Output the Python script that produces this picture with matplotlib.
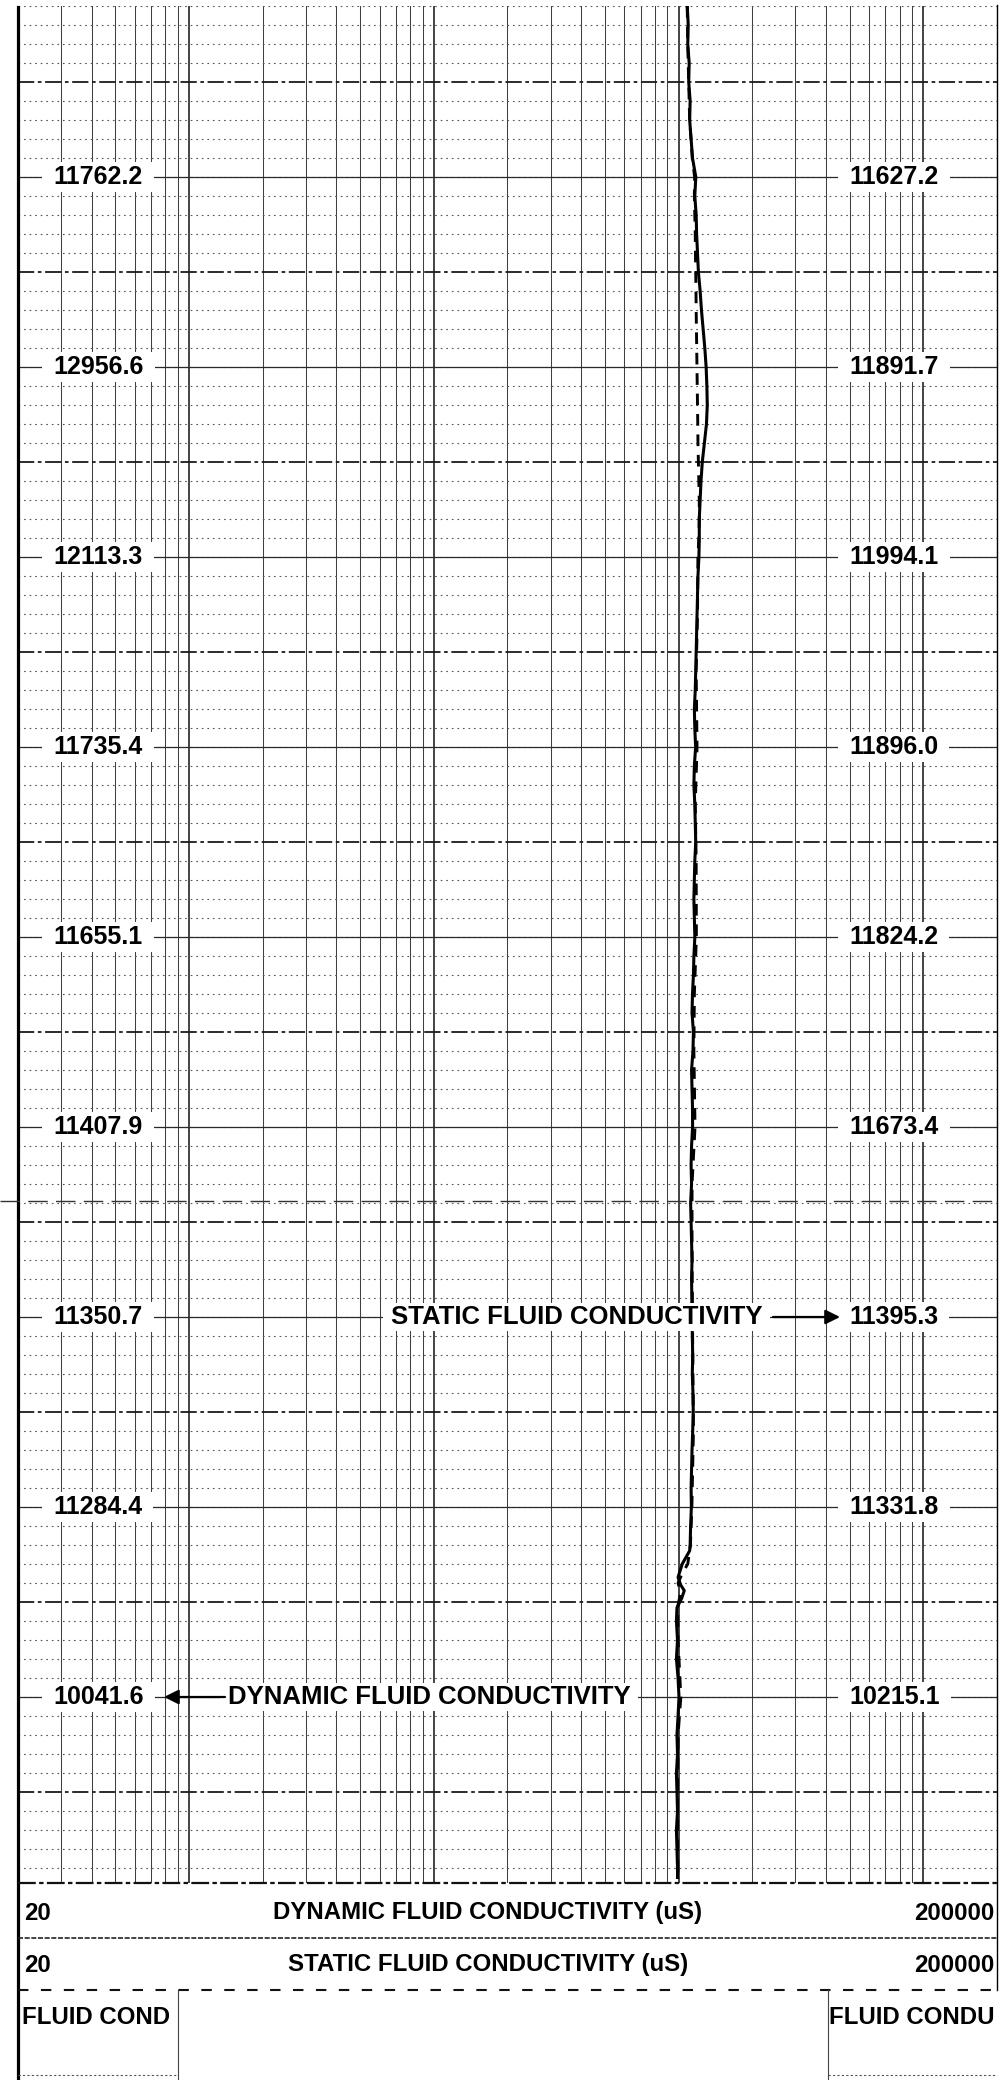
import numpy as np
import matplotlib
matplotlib.use("Agg")
import matplotlib.pyplot as plt
from matplotlib.ticker import LogLocator, MultipleLocator, NullFormatter
from matplotlib.lines import Line2D
from matplotlib import transforms

plt.rcParams['font.family'] = ['Liberation Sans', 'DejaVu Sans']

# ---------------- data ----------------
scale_min, scale_max = 20, 200000

dyn_depth = [0, 1, 2, 3, 4, 5, 6, 7, 8, 9, 10, 11, 12, 13, 14, 15, 16, 17, 18, 19,
             20, 21, 22, 23, 24, 25, 26, 27, 28, 29, 30, 31, 32, 33, 34, 35, 36, 37, 38, 39,
             40, 41, 42, 43, 44, 45, 46, 47, 48, 49, 50, 51, 52, 53, 54, 55, 56, 57, 58, 59,
             60, 61, 62, 63, 64, 65, 66, 67, 68, 69, 70, 71, 72, 73, 74, 75, 76, 77, 78, 79,
             80, 81, 81.3, 82.0, 82.7, 83.1, 83.4, 83.8, 84.3, 85, 86, 87, 88, 89,
             90, 91, 92, 93, 94, 95, 96, 97, 98, 98.5]
dyn_vals = [10850, 10950, 10900, 11050, 11000, 11150, 11100, 11250, 11400, 11760,
            11650, 11800, 11850, 11950, 12050, 12250, 12400, 12600, 12800, 12960,
            13050, 13100, 13000, 12750, 12500, 12350, 12250, 12150, 12150, 12110,
            12000, 11950, 11900, 11850, 11800, 11750, 11700, 11600, 11650, 11740,
            11600, 11550, 11650, 11700, 11750, 11650, 11600, 11550, 11600, 11655,
            11550, 11500, 11400, 11350, 11500, 11450, 11300, 11350, 11400, 11410,
            11300, 11250, 11300, 11200, 11250, 11300, 11350, 11300, 11330, 11350,
            11380, 11420, 11380, 11450, 11480, 11420, 11350, 11300, 11250, 11280,
            11200, 11150, 11100, 10350, 9950, 10200, 10550, 10300, 9850, 9800,
            9900, 9800, 9950, 10040,
            9950, 9850, 9900, 9800, 9850, 9900, 9800, 9850, 9900, 9900]

stat_depth = [0, 2, 4, 6, 8, 9, 10, 11, 12, 13, 14, 15, 16, 17, 18, 19, 20, 21, 22, 23,
              24, 25, 26, 27, 28, 29, 32, 35, 39, 42, 45, 49, 52, 55, 59, 62, 65, 69,
              72, 75, 79, 81, 81.3, 82.0, 82.5, 83.0, 83.5, 84.3, 86, 89, 91, 94, 97, 98.5]
stat_vals = [10850, 10900, 11000, 11100, 11380, 11630, 11600, 11650, 11700, 11720,
             11750, 11780, 11800, 11830, 11860, 11890, 11920, 11950, 11980, 12000,
             12050, 12100, 12150, 12150, 12100, 11994, 11950, 11800, 11896, 11700,
             11800, 11824, 11600, 11550, 11673, 11350, 11350, 11395, 11450, 11500,
             11332, 11180, 11100, 10900, 10350, 9950, 10200, 9900, 9950, 10215,
             9950, 9900, 9900, 9950]

left_labels = ["11762.2", "12956.6", "12113.3", "11735.4", "11655.1",
               "11407.9", "11350.7", "11284.4", "10041.6"]
right_labels = ["11627.2", "11891.7", "11994.1", "11896.0", "11824.2",
                "11673.4", "11395.3", "11331.8", "10215.1"]

dyn_name = "DYNAMIC FLUID CONDUCTIVITY"
stat_name = "STATIC FLUID CONDUCTIVITY"
unit = "(uS)"
box_left_text = "FLUID COND"
box_right_text = "FLUID CONDU"

# ---------------- layout helpers ----------------
W, H = 1000, 2080
def fx(px):
    return px / W
def fy(py):
    return 1 - py / H

fig = plt.figure(figsize=(10, 20.8), dpi=100)
fig.patch.set_facecolor('white')

X0, X1 = 18, 997
Y0, Y1 = 6, 1883
ax = fig.add_axes([fx(X0), fy(Y1), (X1 - X0) / W, (Y1 - Y0) / H])
ax.set_xscale('log')
ax.set_xlim(scale_min, scale_max)
depth_span = (Y1 - Y0) / 19.0
ax.set_ylim(depth_span, 0)

ax.xaxis.set_major_locator(LogLocator(base=10, numticks=20))
ax.xaxis.set_minor_locator(LogLocator(base=10, subs=np.arange(2, 10), numticks=50))
ax.xaxis.set_minor_formatter(NullFormatter())
ax.yaxis.set_major_locator(MultipleLocator(10, offset=4))
ax.yaxis.set_minor_locator(MultipleLocator(1))
ax.tick_params(which='both', length=0, labelbottom=False, labelleft=False)
for s in ax.spines.values():
    s.set_visible(False)

ax.grid(which='major', axis='x', color='#111111', lw=1.1)
ax.grid(which='minor', axis='x', color='#404040', lw=0.75)
ax.grid(which='major', axis='y', color='#1a1a1a', lw=1.3, linestyle=(0, (9, 2, 2, 2)))
ax.grid(which='minor', axis='y', color='#555555', lw=0.8, linestyle=(0, (1.5, 3.5)))
ax.set_axisbelow(True)

label_depths = np.arange(len(left_labels)) * 10 + 9
for d in label_depths:
    ax.axhline(d, color='#2a2a2a', lw=0.9, zorder=1)

# curves
ax.plot(dyn_vals, dyn_depth, color='black', lw=2.2, zorder=3, solid_joinstyle='round')
ax.plot(stat_vals, stat_depth, color='black', lw=2.1, zorder=3,
        linestyle=(0, (4, 3)))

tr = transforms.blended_transform_factory(ax.transAxes, ax.transData)
def axfrac(px):
    return (px - X0) / (X1 - X0)

box = dict(boxstyle='square,pad=0.45', fc='white', ec='none', mutation_aspect=0.25)
for d, lab in zip(label_depths, left_labels):
    ax.text(axfrac(53), d, lab, transform=tr, ha='left', va='center',
            fontsize=18, fontweight='bold', zorder=5, bbox=box)
for d, lab in zip(label_depths, right_labels):
    ax.text(axfrac(849), d, lab, transform=tr, ha='left', va='center',
            fontsize=18, fontweight='bold', zorder=5, bbox=box)

# annotations
abox = dict(boxstyle='square,pad=0.3', fc='white', ec='none', mutation_aspect=0.3)
d_stat = label_depths[6]
ax.text(axfrac(391), d_stat, stat_name, transform=tr, ha='left', va='center',
        fontsize=18.5, fontweight='bold', zorder=5, bbox=abox)
ax.annotate('', xy=(axfrac(840), d_stat), xytext=(axfrac(773), d_stat),
            xycoords=tr, textcoords=tr, zorder=6,
            arrowprops=dict(arrowstyle='-|>', lw=1.6, color='black', mutation_scale=22,
                            shrinkA=0, shrinkB=0))
d_dyn = label_depths[8]
ax.text(axfrac(228), d_dyn, dyn_name, transform=tr, ha='left', va='center',
        fontsize=18.5, fontweight='bold', zorder=5, bbox=abox)
ax.annotate('', xy=(axfrac(164), d_dyn), xytext=(axfrac(225), d_dyn),
            xycoords=tr, textcoords=tr, zorder=6,
            arrowprops=dict(arrowstyle='-|>', lw=1.6, color='black', mutation_scale=22,
                            shrinkA=0, shrinkB=0))

# ---------------- borders & header ----------------
def fline(xs, ys, **kw):
    fig.add_artist(Line2D([fx(x) for x in xs], [fy(y) for y in ys], **kw))

fline([X0, X0], [7, H], color='black', lw=2.3)
fline([X1, X1], [5, 1990], color='black', lw=1.0)
fline([X0, X1], [Y1, Y1], color='#111111', lw=1.6, linestyle=(0, (8, 1.5, 2, 1.5)))
fline([0, W], [1201, 1201], color='#333333', lw=1.0, linestyle=(0, (14, 6)))
fline([X0, X1], [1938, 1938], color='#222222', lw=1.2, linestyle=(0, (3, 1)))
fline([X0, X1], [1990, 1990], color='#111111', lw=1.5, linestyle=(0, (5, 6)))
fline([178, 178], [1990, H], color='#444444', lw=0.8)
fline([828, 828], [1990, H], color='#444444', lw=0.8)
fline([X0, 178], [2075, 2075], color='#555555', lw=0.8, linestyle=(0, (2, 2)))
fline([828, X1], [2075, 2075], color='#555555', lw=0.8, linestyle=(0, (2, 2)))

hdr = dict(fontsize=17.3, fontweight='bold', va='center')
lo, hi = str(scale_min), str(scale_max)
for yrow, name in [(1913, dyn_name), (1965, stat_name)]:
    fig.text(fx(24), fy(yrow), lo, ha='left', **hdr)
    fig.text(fx(488), fy(yrow), name + " " + unit, ha='center', **hdr)
    fig.text(fx(994), fy(yrow), hi, ha='right', **hdr)

fig.text(fx(22), fy(2017), box_left_text, ha='left', **hdr)
fig.text(fx(829), fy(2017), box_right_text, ha='left', **hdr)

fig.savefig('out.png', dpi=100, facecolor='white')
